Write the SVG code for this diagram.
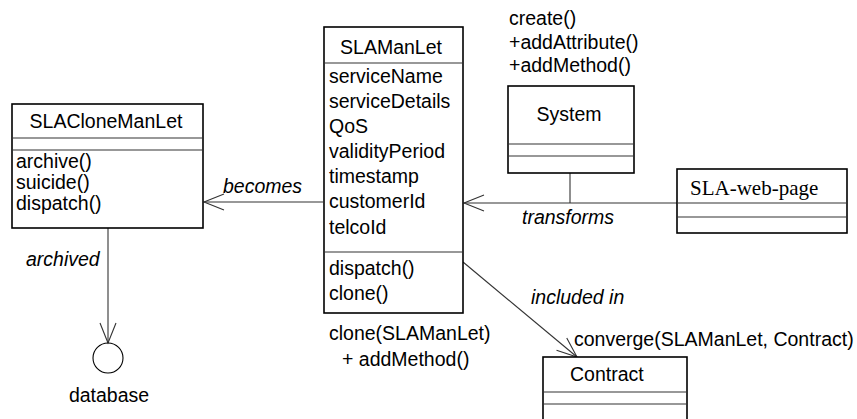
<svg xmlns="http://www.w3.org/2000/svg" width="857" height="419" viewBox="0 0 857 419">
  <style>
    .box { fill: #fff; stroke: #000; stroke-width: 1.6; }
    .sep { stroke: #333; stroke-width: 1.2; fill: none; }
    .t { font-family: "Liberation Sans", Arial, sans-serif; font-size: 19.5px; fill: #000; }
    .c { text-anchor: middle; }
    .lbl { font-family: "Liberation Sans", Arial, sans-serif; font-size: 19.5px; font-style: italic; fill: #000; }
    .serif { font-family: "Liberation Serif", "Times New Roman", serif; font-size: 21px; fill: #000; }
    .edge { stroke: #333; stroke-width: 1.1; fill: none; }
  </style>
  <defs>
    <marker id="open" markerUnits="userSpaceOnUse" markerWidth="24" markerHeight="20" refX="0" refY="0" viewBox="-22 -10 24 20" orient="auto">
      <path d="M-20,-8 L0,0 L-20,8" fill="none" stroke="#333" stroke-width="1.1"/>
    </marker>
  </defs>

  <!-- connectors -->
  <g id="connectors">
    <line class="edge" x1="323" y1="202" x2="204" y2="202" marker-end="url(#open)"/>
    <line class="edge" x1="677" y1="203" x2="464" y2="203" marker-end="url(#open)"/>
    <line class="edge" x1="570" y1="173" x2="570" y2="203"/>
    <line class="edge" x1="463" y1="262" x2="577" y2="357" marker-end="url(#open)"/>
    <line class="edge" x1="108" y1="228" x2="108" y2="343" marker-end="url(#open)"/>
    <text class="lbl" x="223" y="193">becomes</text>
    <text class="lbl" x="522" y="224">transforms</text>
    <text class="lbl" x="26" y="266">archived</text>
    <text class="lbl" x="531" y="304">included in</text>
  </g>

  <!-- SLACloneManLet -->
  <g id="SLACloneManLet">
    <rect class="box" x="12" y="104" width="191" height="124"/>
    <line class="sep" x1="12" y1="138" x2="203" y2="138"/>
    <line class="sep" x1="12" y1="150" x2="203" y2="150"/>
    <text class="t c" x="106" y="128">SLACloneManLet</text>
    <text class="t" x="16" y="168">archive()</text>
    <text class="t" x="16" y="189">suicide()</text>
    <text class="t" x="16" y="210">dispatch()</text>
  </g>

  <!-- SLAManLet -->
  <g id="SLAManLet">
    <rect class="box" x="324" y="27" width="139" height="286"/>
    <line class="sep" x1="324" y1="63" x2="463" y2="63"/>
    <line class="sep" x1="324" y1="252" x2="463" y2="252"/>
    <text class="t c" x="391" y="54">SLAManLet</text>
    <text class="t" x="329" y="83">serviceName</text>
    <text class="t" x="329" y="108">serviceDetails</text>
    <text class="t" x="329" y="133">QoS</text>
    <text class="t" x="329" y="158">validityPeriod</text>
    <text class="t" x="329" y="183">timestamp</text>
    <text class="t" x="329" y="208">customerId</text>
    <text class="t" x="329" y="234">telcoId</text>
    <text class="t" x="329" y="275">dispatch()</text>
    <text class="t" x="329" y="300">clone()</text>
  </g>

  <!-- operations applied to SLAManLet -->
  <g id="clone-note">
    <text class="t" x="329" y="340">clone(SLAManLet)</text>
    <text class="t" x="342" y="366">+ addMethod()</text>
  </g>

  <!-- System -->
  <g id="System">
    <text class="t" x="509" y="25">create()</text>
    <text class="t" x="509" y="49">+addAttribute()</text>
    <text class="t" x="509" y="72">+addMethod()</text>
    <rect class="box" x="508" y="86" width="126" height="87"/>
    <line class="sep" x1="508" y1="144" x2="634" y2="144"/>
    <line class="sep" x1="508" y1="156" x2="634" y2="156"/>
    <text class="t c" x="569" y="121">System</text>
  </g>

  <!-- SLA-web-page -->
  <g id="SLA-web-page">
    <rect class="box" x="677" y="169" width="170" height="64"/>
    <line class="sep" x1="677" y1="203" x2="847" y2="203"/>
    <line class="sep" x1="677" y1="217" x2="847" y2="217"/>
    <text class="serif" x="690" y="195">SLA-web-page</text>
  </g>

  <!-- Contract -->
  <g id="Contract">
    <text class="t" x="574" y="346">converge(SLAManLet, Contract)</text>
    <rect class="box" x="543" y="357" width="144" height="80"/>
    <line class="sep" x1="543" y1="392" x2="687" y2="392"/>
    <line class="sep" x1="543" y1="404" x2="687" y2="404"/>
    <text class="t" x="570" y="381">Contract</text>
  </g>

  <!-- database -->
  <g id="database">
    <circle cx="108" cy="358" r="15" fill="none" stroke="#000" stroke-width="1.1"/>
    <text class="t c" x="109" y="402">database</text>
  </g>
</svg>
